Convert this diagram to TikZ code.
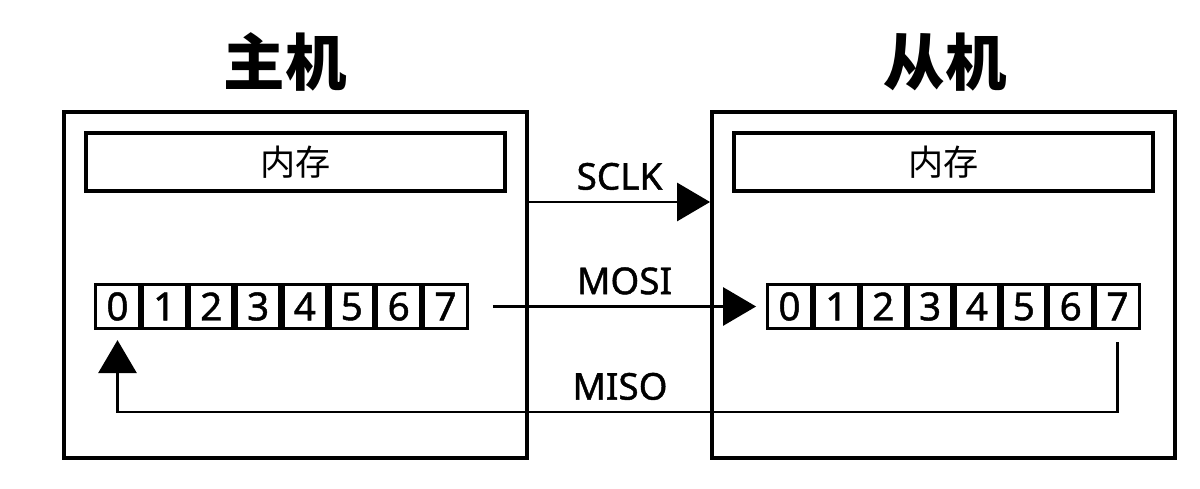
\documentclass[tikz,border=0pt]{standalone}
\usepackage{fontspec}
\setmainfont{Noto Sans}
\newfontfamily\cjkfont{Noto Sans CJK SC}
\newfontfamily\busfont[FakeBold=1.2]{Noto Sans}
\usetikzlibrary{arrows.meta,positioning}
\tikzset{
  unitbox/.style={draw, line width=2.2pt, minimum width=9.26cm,
    minimum height=6.92cm, inner sep=0pt},
  membox/.style={draw, line width=2pt, minimum width=8.38cm,
    minimum height=1.16cm, inner sep=0pt,
    font=\cjkfont\fontsize{20}{24}\selectfont},
  bitcell/.style={draw, line width=1.8pt, minimum width=.874cm,
    minimum height=.88cm, inner sep=0pt,
    font=\busfont\fontsize{22}{26}\selectfont},
  sigline/.style={line width=1.7pt, -{Triangle[length=6.6mm,width=7.6mm]}},
  siglabel/.style={font=\busfont\fontsize{21}{25}\selectfont,
    inner sep=2pt, above=4pt},
  unittitle/.style={font=\cjkfont\bfseries\fontsize{35}{42}\selectfont}
}

\begin{document}
\begin{tikzpicture}[line join=miter]
  \useasboundingbox (0,0) rectangle (24,9.76);

  \node[unittitle] (hosttitle) at (5.70,8.52) {主机};
  \node[unittitle] (slavetitle) at (18.90,8.52) {从机};

  \node[unitbox] (host) at (5.91,4.06) {};
  \node[unitbox] (slave) at (18.87,4.06) {};

  % The memory bar hangs just under the top edge of each unit.
  \node[membox, below=4.2mm of host.north] (hmem) {内存};
  \node[membox, below=4.2mm of slave.north] (smem) {内存};

  % Eight bit cells per unit, each one placed against the previous one.
  \node[bitcell, right=6.4mm of host.west, yshift=-4.3mm] (h0) {0};
  \node[bitcell, right=11.2mm of slave.west, yshift=-4.3mm] (s0) {0};
  \foreach \i [count=\j from 0] in {1,...,7}{%
    \node[bitcell, right=0pt of h\j] (h\i) {\i};
    \node[bitcell, right=0pt of s\j] (s\i) {\i};
  }

  % Bus lines between the two units.
  \draw[sigline] ([yshift=16.6mm]host.east) -- node[siglabel] {SCLK}
    ([yshift=16.6mm]slave.west);
  \draw[sigline] ([xshift=4.8mm]h7.east) -- node[siglabel] {MOSI}
    ([xshift=-2mm]s0.west);
  \coordinate (misoturn) at (12.40,1.52);
  \draw[sigline] ([yshift=-2.4mm]s7.south) |- (misoturn)
    node[siglabel] {MISO} -| ([yshift=-2mm]h0.south);
\end{tikzpicture}
\end{document}
